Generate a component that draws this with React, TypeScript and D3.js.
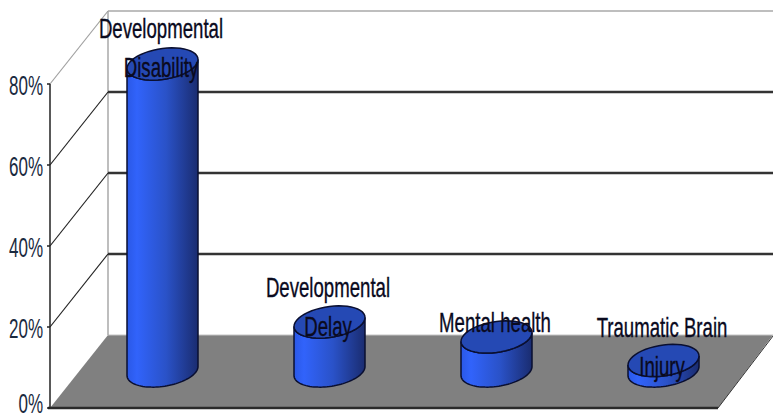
import React from "react";
import * as d3 from "d3";

const categories = ["Developmental Disability", "Developmental Delay", "Mental health", "Traumatic Brain Injury"];
const values = [75.8, 12.1, 8.4, 2.6];
const labelLines = [["Developmental", "Disability"], ["Developmental", "Delay"], ["Mental health"], ["Traumatic Brain", "Injury"]];
const labelTop = [38, 297, 332, 337];
const ticks = [0, 20, 40, 60, 80];

const W = 773, H = 419;
const y = d3.scaleLinear().domain([0, 80]).range([408, 84]);
const x = d3.scalePoint<string>().domain(categories).range([162.5, 663.5]);
const DX = 58, DY = -73;
const X0 = 50, X1 = 718;
const RX = 35.5, RY = 15.5, SHEAR = 4.5, BASE_SHIFT = -37;
const lineGen = d3.line<[number, number]>();

function ellipsePts(cx: number, cy: number, from = 0, to = Math.PI * 2, n = 48): [number, number][] {
  return d3.range(n + 1).map((i) => {
    const t = from + ((to - from) * i) / n;
    return [cx + RX * Math.cos(t), cy - SHEAR * Math.cos(t) + RY * Math.sin(t)] as [number, number];
  });
}

const font = "'Liberation Sans', Arial, sans-serif";

export default function App() {
  return (
    <svg width={W} height={H} viewBox={`0 0 ${W} ${H}`} style={{ position: "absolute", left: 0, top: 0, background: "#fff" }}>
      <defs>
        <linearGradient id="cyl" x1="0" x2="1" y1="0" y2="0">
          <stop offset="0" stopColor="#2a58e6" />
          <stop offset="0.14" stopColor="#3163fb" />
          <stop offset="0.55" stopColor="#2a52c8" />
          <stop offset="1" stopColor="#1a2c70" />
        </linearGradient>
      </defs>
      {/* floor */}
      <path
        d={lineGen([[X0, y(0)], [X0 + DX, y(0) + DY], [W, y(0) + DY], [X1, y(0)]])! + "Z"}
        fill="#808080"
      />
      <line x1={X1} y1={y(0)} x2={W} y2={y(0) + DY + 1} stroke="#333" strokeWidth={1} />
      <line x1={X0 + DX} x2={W} y1={y(0) + DY} y2={y(0) + DY} stroke="#c4c4c4" strokeWidth={1} />
      {/* back wall */}
      <line x1={X0 + DX} x2={X0 + DX} y1={y(80) + DY} y2={y(0) + DY} stroke="#a8a8a8" strokeWidth={1.5} />
      <line x1={X0 + DX} x2={W} y1={y(80) + DY} y2={y(80) + DY} stroke="#a8a8a8" strokeWidth={1.5} />
      {ticks.slice(1).map((t) => (
        <g key={t}>
          <line x1={X0} y1={y(t)} x2={X0 + DX} y2={y(t) + DY} stroke={t === 80 ? "#a0a0a0" : "#222"} strokeWidth={1.2} />
          {t < 80 && <line x1={X0 + DX} x2={W} y1={y(t) + DY} y2={y(t) + DY} stroke="#333" strokeWidth={2.4} />}
        </g>
      ))}
      {/* axes */}
      <line x1={X0} x2={X0} y1={y(80)} y2={y(0)} stroke="#222" strokeWidth={1.5} />
      <line x1={X0 - 2} x2={X1} y1={y(0)} y2={y(0)} stroke="#2a2a2a" strokeWidth={2.5} />
      {ticks.map((t) => (
        <g key={t}>
          <line x1={X0 - 3} x2={X0} y1={y(t)} y2={y(t)} stroke="#222" strokeWidth={1.5} />
          <text
            transform={`translate(43,${Math.min(y(t) + 10.5, 413)}) scale(0.63,1)`}
            textAnchor="end"
            fontFamily={font}
            fontSize={27}
            fill="#1a2a40"
          >
            {t}%
          </text>
        </g>
      ))}
      {/* cylinders */}
      {categories.map((c, i) => {
        const cx = x(c)!;
        const by = y(0) + BASE_SHIFT;
        const ty = y(values[i]) + BASE_SHIFT;
        const front = ellipsePts(cx, by, 0, Math.PI);
        const body = lineGen([...front, ...ellipsePts(cx, ty, Math.PI, 0)])! + "Z";
        return (
          <g key={c}>
            <path d={body} fill="url(#cyl)" stroke="#0a0f30" strokeWidth={1.5} />
            <path d={lineGen(ellipsePts(cx, ty))! + "Z"} fill="#2549b4" stroke="#0a0f30" strokeWidth={1.5} />
          </g>
        );
      })}
      {/* labels */}
      {categories.map((c, i) =>
        labelLines[i].map((ln, j) => (
          <text
            key={ln}
            transform={`translate(${x(c)! - 1.5},${labelTop[i] + j * 39}) scale(0.69,1)`}
            textAnchor="middle"
            fontFamily={font}
            fontSize={27}
            fill="#0a0a1e"
            stroke="#0a0a1e"
            strokeWidth={0.35}
          >
            {ln}
          </text>
        ))
      )}
    </svg>
  );
}
